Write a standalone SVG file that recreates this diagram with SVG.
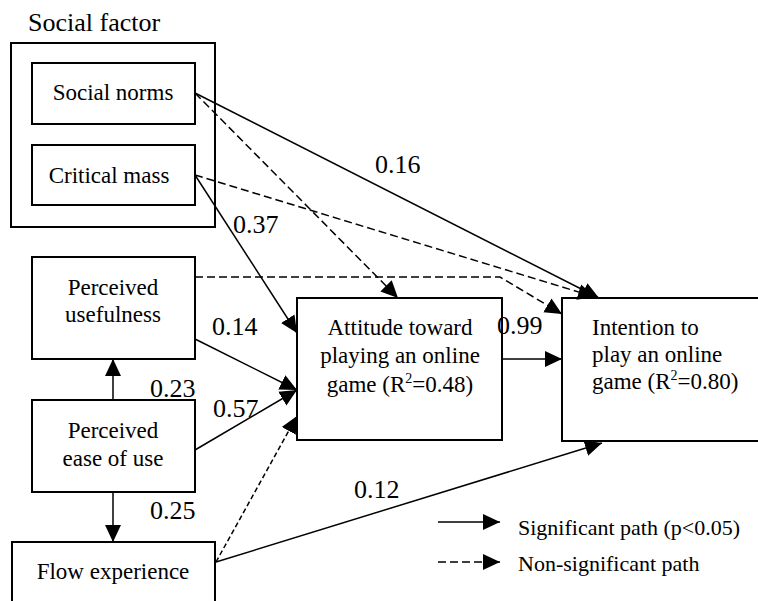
<svg xmlns="http://www.w3.org/2000/svg" width="758" height="601" viewBox="0 0 758 601">
<style>
.box{fill:#fff;stroke:#000;stroke-width:2}
.t{font-size:23px;fill:#000}
.c{text-anchor:middle}
.num{font-size:26px;fill:#000}
.lg{font-size:22px;fill:#000}
.ln{fill:none;stroke:#000;stroke-width:1.5}
.sol{marker-end:url(#ah)}
.dash{stroke-dasharray:8,4;marker-end:url(#ah)}
.dash2{stroke-dasharray:5,3;marker-end:url(#ah)}
</style>
<defs>
<marker id="ah" markerUnits="userSpaceOnUse" markerWidth="18" markerHeight="18" refX="17" refY="8" orient="auto" viewBox="0 0 18 16">
<path d="M0,0 L17,8 L0,16 z" fill="#000" stroke="none"/>
</marker>
</defs>
<rect width="758" height="601" fill="#fff"/>
<g font-family="Liberation Serif, serif">
<g id="social-factor">
<text x="28" y="31" style="font-size:26px;fill:#000">Social factor</text>
<rect class="box" x="11" y="43" width="204" height="184"/>
</g>
<g id="social-norms">
<rect class="box" x="32" y="63" width="163" height="61"/>
<text class="t c" x="113" y="100">Social norms</text>
</g>
<g id="critical-mass">
<rect class="box" x="32" y="145" width="163" height="60"/>
<text class="t c" x="109" y="183">Critical mass</text>
</g>
<g id="perceived-usefulness">
<rect class="box" x="32" y="257" width="163" height="102"/>
<text class="t c" x="113" y="295">Perceived</text>
<text class="t c" x="113" y="322">usefulness</text>
</g>
<g id="perceived-ease">
<rect class="box" x="32" y="400" width="163" height="92"/>
<text class="t c" x="113" y="438">Perceived</text>
<text class="t c" x="113" y="466">ease of use</text>
</g>
<g id="flow-experience">
<rect class="box" x="12" y="542" width="203" height="70"/>
<text class="t c" x="113" y="579">Flow experience</text>
</g>
<g id="attitude">
<rect class="box" x="297" y="298" width="205" height="142"/>
<text class="t c" x="400" y="335">Attitude toward</text>
<text class="t c" x="400" y="363">playing an online</text>
<text class="t c" x="400" y="392">game (R<tspan dy="-9" style="font-size:14px">2</tspan><tspan dy="9">=0.48)</tspan></text>
</g>
<g id="intention">
<rect class="box" x="562" y="298" width="210" height="143"/>
<text class="t" x="592" y="335">Intention to</text>
<text class="t" x="592" y="362">play an online</text>
<text class="t" x="592" y="389">game (R<tspan dy="-9" style="font-size:14px">2</tspan><tspan dy="9">=0.80)</tspan></text>
</g>

<g id="connectors">
<line class="ln sol" x1="195" y1="93" x2="599" y2="298"/>
<line class="ln dash" x1="195" y1="93" x2="398" y2="298"/>
<line class="ln dash" x1="195" y1="175" x2="595" y2="297"/>
<line class="ln sol" x1="195" y1="175" x2="297" y2="333"/>
<polyline class="ln dash" points="195,277 500,277 562,314"/>
<line class="ln sol" x1="195" y1="339" x2="297" y2="390"/>
<line class="ln sol" x1="195" y1="450" x2="297" y2="390"/>
<line class="ln dash2" x1="216" y1="562" x2="297" y2="416"/>
<line class="ln sol" x1="216" y1="562" x2="602" y2="443"/>
<line class="ln sol" x1="502" y1="359" x2="562" y2="359"/>
<line class="ln sol" x1="113" y1="400" x2="113" y2="359"/>
<line class="ln sol" x1="113" y1="492" x2="113" y2="542"/>
</g>

<g id="labels">
<text class="num" x="375" y="173">0.16</text>
<text class="num" x="233" y="233">0.37</text>
<text class="num" x="212" y="335">0.14</text>
<text class="num" x="213" y="417">0.57</text>
<text class="num" x="150" y="397">0.23</text>
<text class="num" x="150" y="519">0.25</text>
<text class="num" x="354" y="498">0.12</text>
<text class="num" x="497" y="334">0.99</text>
</g>

<g id="legend">
<line class="ln sol" x1="438" y1="522" x2="500" y2="522"/>
<text class="lg" x="518" y="535">Significant path (p&lt;0.05)</text>
<line class="ln dash" x1="438" y1="562" x2="500" y2="562"/>
<text class="lg" x="518" y="571">Non-significant path</text>
</g>
</g>
</svg>
